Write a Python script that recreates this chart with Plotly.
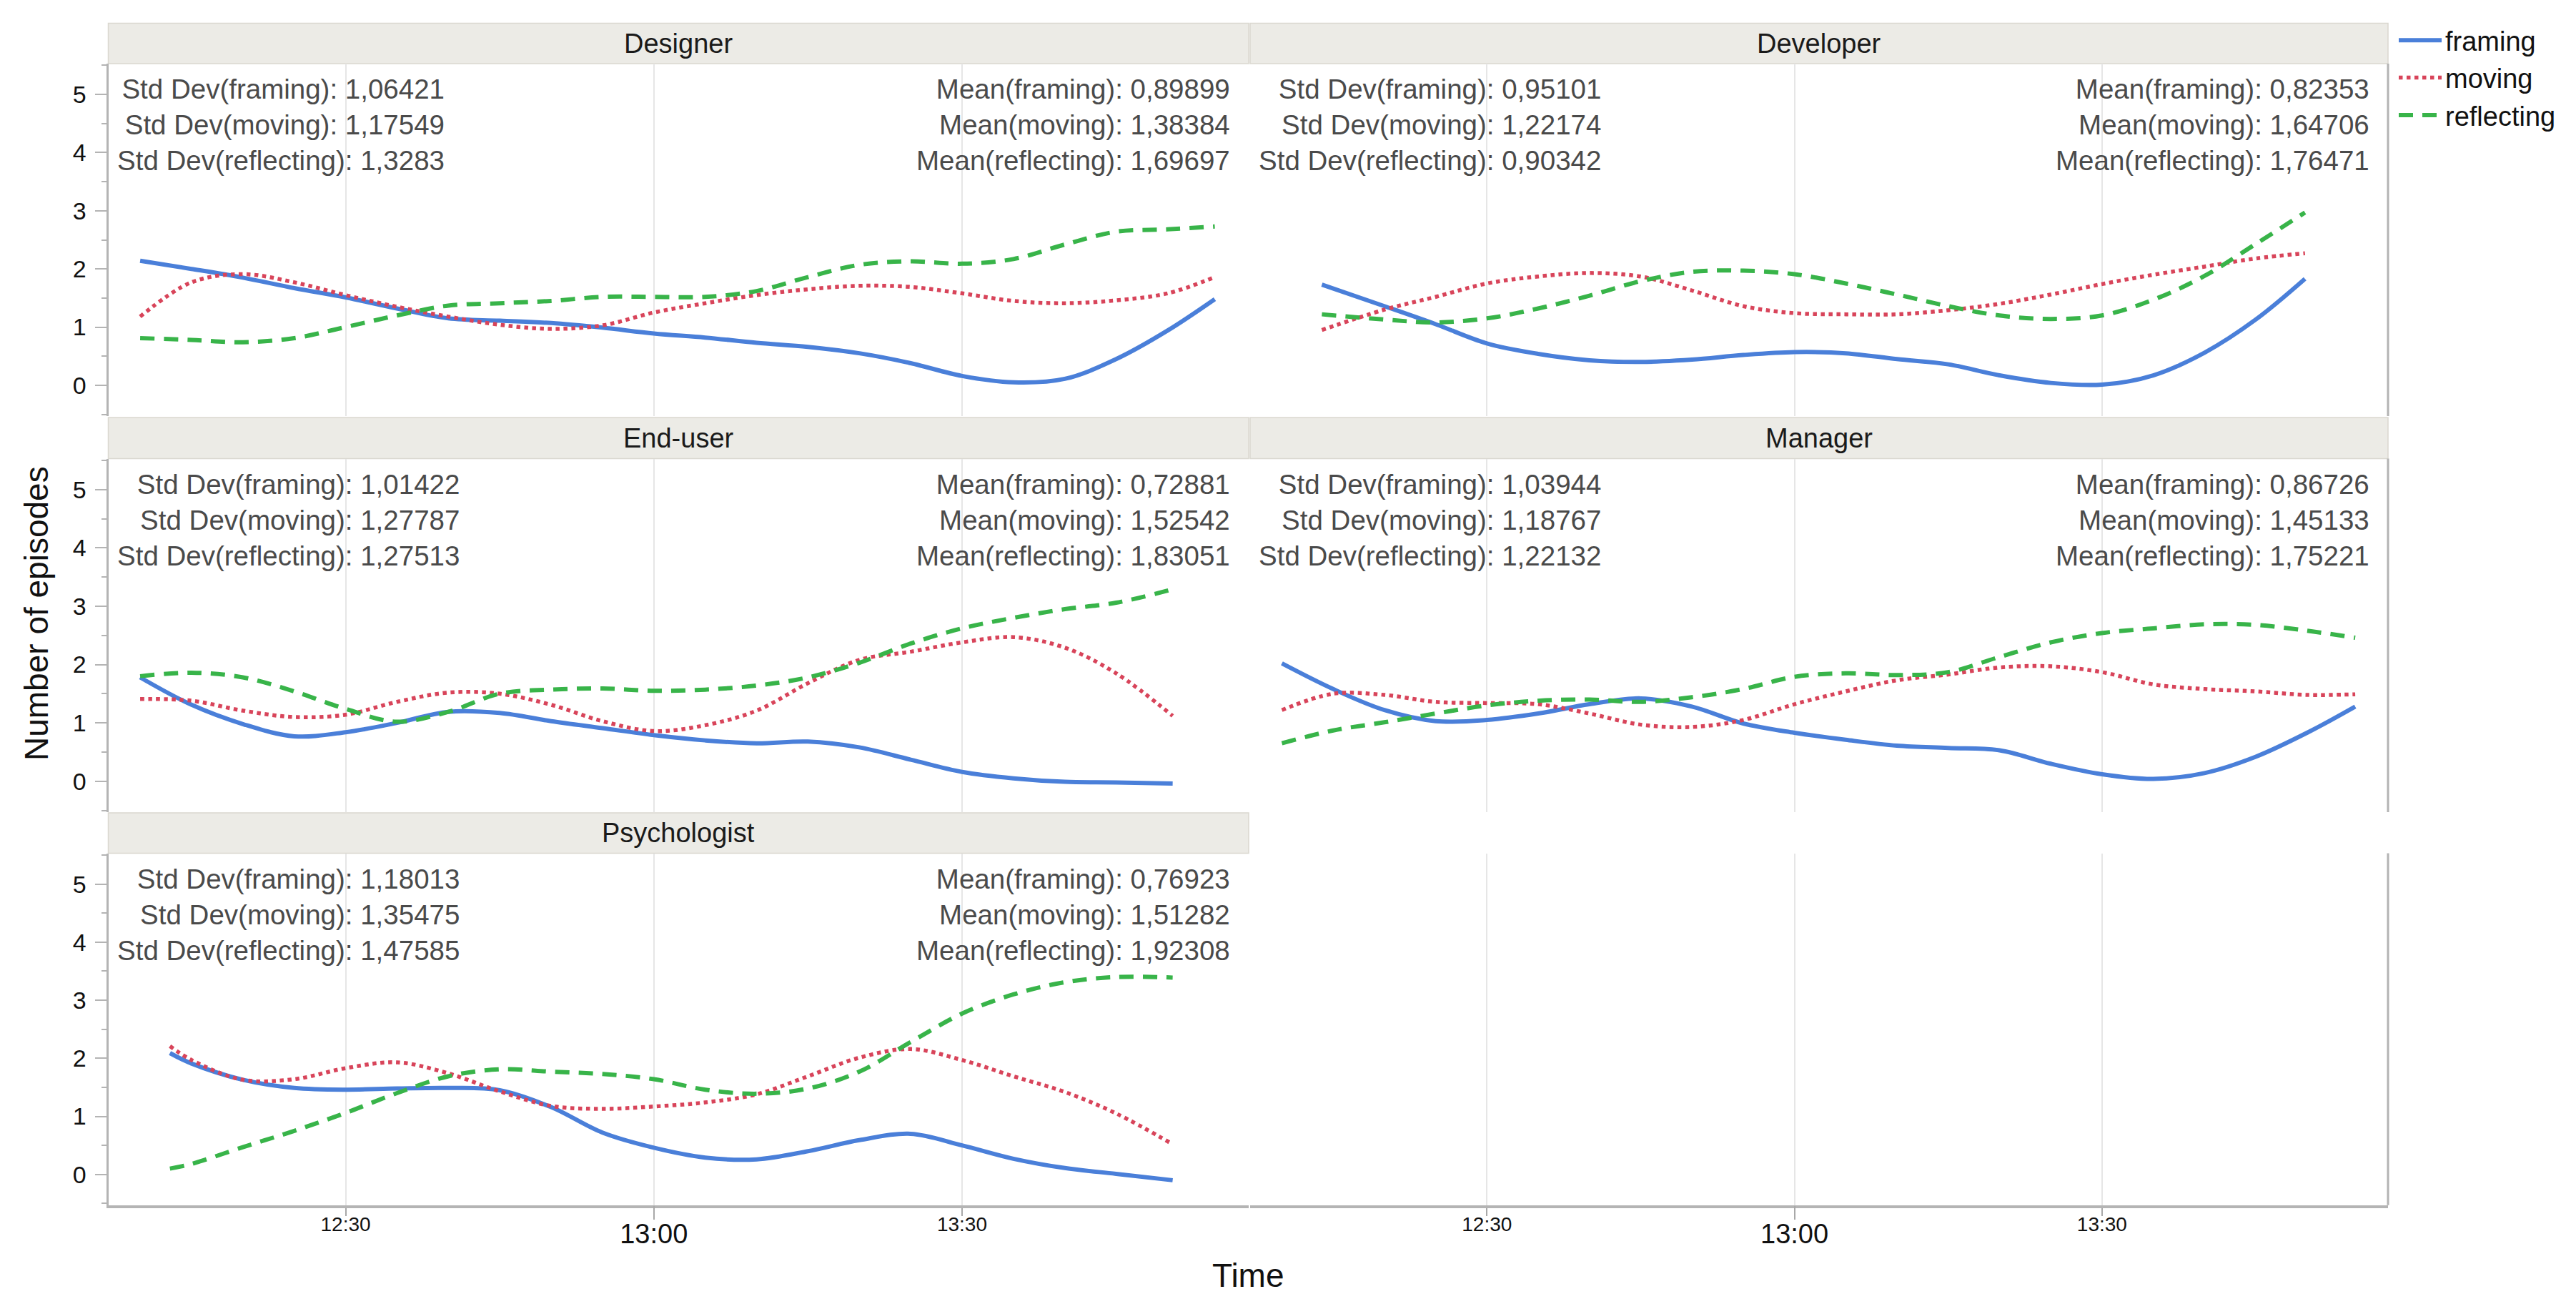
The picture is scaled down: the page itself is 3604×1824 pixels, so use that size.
import plotly.graph_objects as go

W, H = 3604, 1824
DATE = "2000-01-01 "

# ---------------- data ----------------
series_names = ["framing", "moving", "reflecting"]
series_colors = ["#4a7fd9", "#d8445a", "#38b449"]
panel_names = ["Designer", "Developer", "End-user", "Manager", "Psychologist"]

designer_time = ["12:10", "12:15", "12:20", "12:25", "12:30", "12:35", "12:40", "12:45", "12:50", "12:55",
                 "13:00", "13:05", "13:10", "13:15", "13:20", "13:25", "13:30", "13:35", "13:40", "13:45",
                 "13:50", "13:54:36"]
designer_framing = [2.14, 2.00, 1.85, 1.67, 1.51, 1.32, 1.15, 1.11, 1.07, 0.99, 0.89, 0.82, 0.73, 0.66,
                    0.55, 0.38, 0.16, 0.05, 0.11, 0.45, 0.94, 1.48]
designer_moving = [1.18, 1.77, 1.91, 1.77, 1.55, 1.35, 1.18, 1.04, 0.97, 1.03, 1.25, 1.41, 1.55, 1.65,
                   1.71, 1.69, 1.58, 1.45, 1.41, 1.46, 1.58, 1.86]
designer_reflecting = [0.81, 0.78, 0.74, 0.81, 1.00, 1.20, 1.37, 1.41, 1.45, 1.52, 1.52, 1.52, 1.62, 1.86,
                       2.07, 2.13, 2.09, 2.17, 2.42, 2.64, 2.68, 2.73]

developer_time = ["12:13:54", "12:20", "12:25", "12:30", "12:35", "12:40", "12:45", "12:50", "12:55", "13:00",
                  "13:05", "13:10", "13:15", "13:20", "13:25", "13:30", "13:35", "13:40", "13:45", "13:49:48"]
developer_framing = [1.73, 1.36, 1.05, 0.72, 0.54, 0.43, 0.40, 0.44, 0.52, 0.57, 0.55, 0.45, 0.36, 0.17,
                     0.04, 0.01, 0.17, 0.56, 1.13, 1.83]
developer_moving = [0.95, 1.30, 1.52, 1.75, 1.87, 1.93, 1.87, 1.63, 1.36, 1.24, 1.22, 1.22, 1.29, 1.40,
                    1.56, 1.74, 1.90, 2.04, 2.18, 2.27]
developer_reflecting = [1.22, 1.13, 1.08, 1.15, 1.32, 1.54, 1.79, 1.95, 1.97, 1.91, 1.75, 1.56, 1.36, 1.20,
                        1.14, 1.20, 1.47, 1.88, 2.43, 2.97]

enduser_time = ["12:10", "12:15", "12:20", "12:25", "12:30", "12:35", "12:40", "12:45", "12:50", "12:55",
                "13:00", "13:05", "13:10", "13:15", "13:20", "13:25", "13:30", "13:35", "13:40", "13:45",
                "13:50:30"]
enduser_framing = [1.78, 1.31, 0.98, 0.77, 0.84, 1.00, 1.19, 1.17, 1.03, 0.91, 0.79, 0.70, 0.65, 0.68,
                   0.58, 0.37, 0.16, 0.05, -0.01, -0.02, -0.04]
enduser_moving = [1.41, 1.38, 1.21, 1.10, 1.14, 1.36, 1.52, 1.50, 1.31, 1.03, 0.86, 0.96, 1.21, 1.68,
                  2.08, 2.22, 2.38, 2.47, 2.29, 1.85, 1.12]
enduser_reflecting = [1.80, 1.86, 1.78, 1.54, 1.24, 1.02, 1.19, 1.50, 1.57, 1.59, 1.55, 1.57, 1.64, 1.78,
                      2.03, 2.36, 2.62, 2.80, 2.95, 3.06, 3.29]

manager_time = ["12:10", "12:15", "12:20", "12:25", "12:30", "12:35", "12:40", "12:45", "12:50", "12:55",
                "13:00", "13:05", "13:10", "13:15", "13:20", "13:25", "13:30", "13:35", "13:40", "13:45",
                "13:50", "13:54:42"]
manager_framing = [2.02, 1.58, 1.22, 1.03, 1.05, 1.16, 1.32, 1.42, 1.28, 0.99, 0.83, 0.71, 0.61, 0.57,
                   0.53, 0.30, 0.12, 0.04, 0.14, 0.42, 0.83, 1.28]
manager_moving = [1.22, 1.50, 1.48, 1.36, 1.34, 1.32, 1.16, 0.97, 0.93, 1.05, 1.32, 1.54, 1.73, 1.83,
                  1.95, 1.97, 1.87, 1.66, 1.58, 1.54, 1.48, 1.49]
manager_reflecting = [0.65, 0.87, 1.01, 1.16, 1.30, 1.38, 1.40, 1.36, 1.44, 1.58, 1.79, 1.85, 1.82, 1.87,
                      2.13, 2.38, 2.54, 2.62, 2.69, 2.68, 2.58, 2.46]

psych_time = ["12:12:54", "12:15", "12:20", "12:25", "12:30", "12:35", "12:40", "12:45", "12:50", "12:55",
              "13:00", "13:05", "13:10", "13:15", "13:20", "13:25", "13:30", "13:35", "13:40", "13:45",
              "13:50:30"]
psych_framing = [2.09, 1.91, 1.63, 1.49, 1.46, 1.48, 1.49, 1.45, 1.16, 0.72, 0.46, 0.29, 0.26, 0.40,
                 0.59, 0.70, 0.50, 0.27, 0.11, 0.01, -0.10]
psych_moving = [2.21, 1.97, 1.63, 1.64, 1.83, 1.93, 1.74, 1.43, 1.18, 1.13, 1.17, 1.24, 1.38, 1.69,
                2.01, 2.16, 1.97, 1.69, 1.42, 1.05, 0.52]
psych_reflecting = [0.10, 0.18, 0.47, 0.75, 1.06, 1.40, 1.69, 1.81, 1.77, 1.73, 1.64, 1.46, 1.39, 1.48,
                    1.77, 2.28, 2.77, 3.10, 3.31, 3.40, 3.39]

designer_std = ["1,06421", "1,17549", "1,3283"]
designer_mean = ["0,89899", "1,38384", "1,69697"]
developer_std = ["0,95101", "1,22174", "0,90342"]
developer_mean = ["0,82353", "1,64706", "1,76471"]
enduser_std = ["1,01422", "1,27787", "1,27513"]
enduser_mean = ["0,72881", "1,52542", "1,83051"]
manager_std = ["1,03944", "1,18767", "1,22132"]
manager_mean = ["0,86726", "1,45133", "1,75221"]
psych_std = ["1,18013", "1,35475", "1,47585"]
psych_mean = ["0,76923", "1,51282", "1,92308"]

x_tick_labels = ["12:30", "13:00", "13:30"]
y_tick_values = [0, 1, 2, 3, 4, 5]
y_minor_values = [-0.5, 0.5, 1.5, 2.5, 3.5, 4.5, 5.5]
x_range = ["12:06:54", "13:57:54"]
y_range = [-0.53, 5.53]

panels = [
    (designer_time, [designer_framing, designer_moving, designer_reflecting], designer_std, designer_mean),
    (developer_time, [developer_framing, developer_moving, developer_reflecting], developer_std, developer_mean),
    (enduser_time, [enduser_framing, enduser_moving, enduser_reflecting], enduser_std, enduser_mean),
    (manager_time, [manager_framing, manager_moving, manager_reflecting], manager_std, manager_mean),
    (psych_time, [psych_framing, psych_moving, psych_reflecting], psych_std, psych_mean),
]

# ---------------- geometry (pixels) ----------------
DY = -3
col_px = [(143.5, 1739.0), (1741.0, 3333.0)]
row_px = [(84.0 + DY, 577.0 + DY), (636.5 + DY, 1131.0 + DY), (1188.6 + DY, 1680.8 + DY)]
header_px = [(27.6 + DY, 84.0 + DY), (579.0 + DY, 636.5 + DY), (1132.0 + DY, 1188.6 + DY)]


def px_x(v):
    return v / W


def px_y(v):
    return 1 - v / H


FONT = "Liberation Sans, Arial, Helvetica, sans-serif"
GRID = "#e6e6e6"
AXC = "#b4b4b4"
dash_styles = ["solid", "dot", "20px,13px"]
widths = [6, 5.5, 6]

fig = go.Figure()
layout = dict(
    width=W, height=H, autosize=False,
    margin=dict(l=0, r=0, t=0, b=0),
    paper_bgcolor="white", plot_bgcolor="white",
    font=dict(family=FONT, color="#1a1a1a"),
    showlegend=True,
    legend=dict(x=px_x(3343), y=px_y(17), xanchor="left", yanchor="top",
                font=dict(size=38, color="#111"), itemwidth=60, tracegroupgap=0,
                bgcolor="rgba(0,0,0,0)"),
)
shapes = []
annotations = []

xr = [DATE + x_range[0], DATE + x_range[1]]
tickvals_x = [DATE + t for t in x_tick_labels]

for i in range(6):
    row, col = i // 2, i % 2
    sfx = "" if i == 0 else str(i + 1)
    xa, ya = "x" + sfx, "y" + sfx
    bottom = row == 2
    x_dom = [px_x(col_px[col][0]), px_x(col_px[col][1])]
    y_dom = [px_y(row_px[row][1]), px_y(row_px[row][0])]

    layout["xaxis" + sfx] = dict(
        domain=x_dom, anchor=ya, type="date", range=xr,
        tickvals=tickvals_x, ticktext=[x_tick_labels[0], "", x_tick_labels[2]],
        showgrid=True, gridcolor=GRID, gridwidth=2, zeroline=False,
        showticklabels=bottom, ticks="outside" if bottom else "",
        ticklen=11, tickwidth=2, tickcolor="#a8a8a8", ticklabelstandoff=-12,
        tickfont=dict(size=28, color="#111"),
        showline=bottom, linecolor=AXC, linewidth=4,
    )
    left = col == 0
    layout["yaxis" + sfx] = dict(
        domain=y_dom, anchor=xa, range=y_range,
        tickvals=y_tick_values, showgrid=False, zeroline=False,
        showticklabels=left, ticks="outside" if left else "",
        ticklen=16, tickwidth=2, tickcolor=AXC, ticklabelstandoff=5,
        tickfont=dict(size=34, color="#111"),
        showline=left, linecolor=AXC, linewidth=3,
        minor=dict(tickvals=y_minor_values, ticks="outside" if left else "", ticklen=7,
                   tickwidth=2, tickcolor=AXC),
    )

    # right border of right column
    if col == 1:
        shapes.append(dict(type="line", xref="paper", yref="paper",
                           x0=px_x(3333), x1=px_x(3333), y0=y_dom[0], y1=y_dom[1],
                           line=dict(color=AXC, width=3)))

    if i < 5:
        times, ys, std, mean = panels[i]
        xs = [DATE + t for t in times]
        for k in range(3):
            fig.add_trace(go.Scatter(
                x=xs, y=ys[k], mode="lines", name=series_names[k],
                line=dict(color=series_colors[k], width=widths[k], dash=dash_styles[k],
                          shape="spline", smoothing=1.0),
                xaxis=xa, yaxis=ya, legendgroup=series_names[k], showlegend=(i == 0),
                hoverinfo="skip",
            ))
        # strip header
        hy0, hy1 = header_px[row]
        shapes.append(dict(type="rect", xref="paper", yref="paper", layer="below",
                           x0=x_dom[0], x1=x_dom[1], y0=px_y(hy1), y1=px_y(hy0),
                           fillcolor="#ECEBE6", line=dict(color="#DAD8D0", width=1.5)))
        annotations.append(dict(xref="paper", yref="paper", x=(x_dom[0] + x_dom[1]) / 2,
                                y=px_y((hy0 + hy1) / 2), text=panel_names[i], showarrow=False,
                                xanchor="center", yanchor="middle",
                                font=dict(size=38, color="#1a1a1a")))
        # stats text
        ymid = px_y(row_px[row][0] + 86)
        std_text = "<br>".join(f"Std Dev({series_names[k]}): {std[k]}" for k in range(3))
        mean_text = "<br>".join(f"Mean({series_names[k]}): {mean[k]}" for k in range(3))
        annotations.append(dict(xref="paper", yref="paper", x=px_x(col_px[col][0] + 10), y=ymid,
                                text=std_text, showarrow=False, xanchor="left", yanchor="middle",
                                align="right", font=dict(size=38.5, color="#4a4a4a")))
        annotations.append(dict(xref="paper", yref="paper", x=px_x(col_px[col][1] - 24), y=ymid,
                                text=mean_text, showarrow=False, xanchor="right", yanchor="middle",
                                align="right", font=dict(size=38.5, color="#4a4a4a")))
    else:
        fig.add_trace(go.Scatter(x=[], y=[], xaxis=xa, yaxis=ya, showlegend=False, hoverinfo="skip"))

# overlay axes carrying the larger "13:00" label on the bottom row
for j, base in enumerate(["5", "6"]):
    sfx = str(7 + j)
    layout["xaxis" + sfx] = dict(
        overlaying="x" + base, anchor="y" + base, type="date", range=xr,
        tickvals=[tickvals_x[1]], ticktext=[x_tick_labels[1]],
        showgrid=False, zeroline=False, showline=False,
        ticks="outside", ticklen=19, tickwidth=2, tickcolor="#a8a8a8", ticklabelstandoff=-12,
        tickfont=dict(size=38, color="#111"), side="bottom",
    )
    fig.add_trace(go.Scatter(x=[], y=[], xaxis="x" + sfx, yaxis="y" + base,
                             showlegend=False, hoverinfo="skip"))

# axis titles
annotations.append(dict(xref="paper", yref="paper", x=px_x(1738), y=px_y(1776), text="Time",
                        showarrow=False, xanchor="center", yanchor="middle",
                        font=dict(size=46, color="#111")))
annotations.append(dict(xref="paper", yref="paper", x=px_x(43), y=px_y(850), text="Number of episodes",
                        showarrow=False, xanchor="center", yanchor="middle", textangle=-90,
                        font=dict(size=46, color="#111")))

layout["shapes"] = shapes
layout["annotations"] = annotations
fig.update_layout(**layout)
fig.write_html("out.html")
